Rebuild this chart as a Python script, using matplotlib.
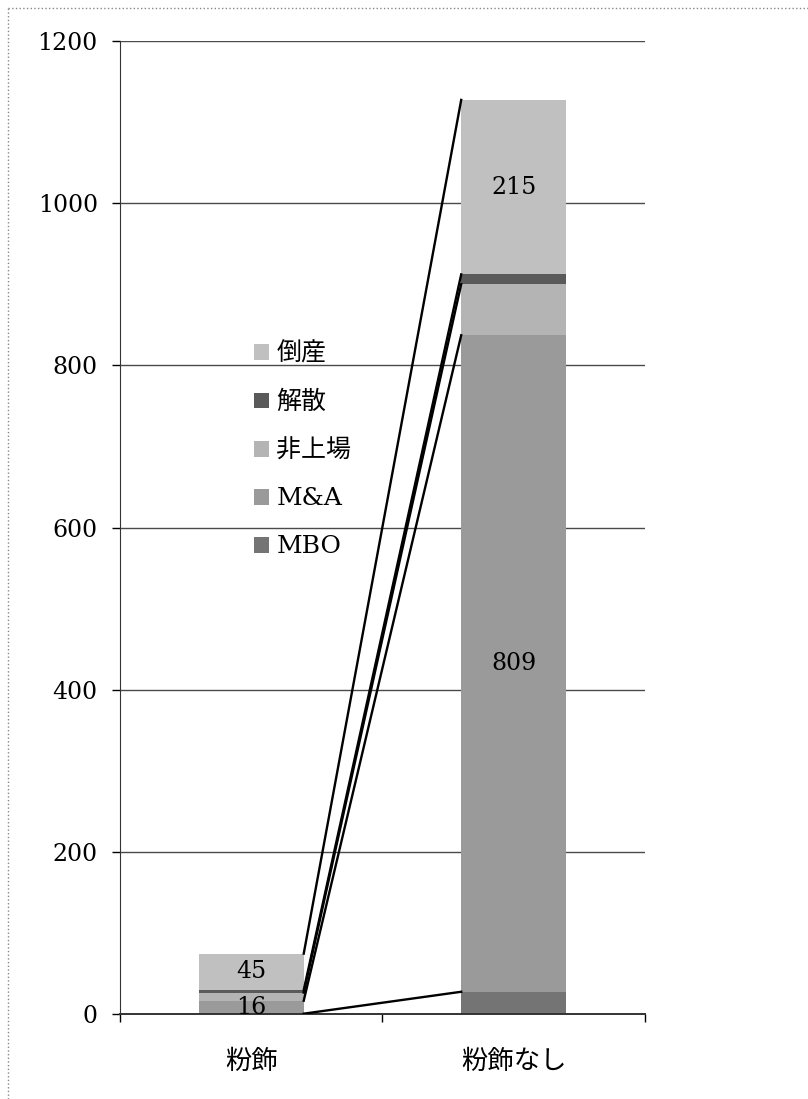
# coding:utf-8

import numpy as np
import matplotlib.pyplot as plt
from matplotlib.lines import Line2D

plt.rcParams['font.family'] = ['DejaVu Serif', 'Noto Sans CJK JP']

categories = ["粉飾", "粉飾なし"]
series_names = ["MBO", "M&A", "非上場", "解散", "倒産"]
mbo      = np.array([1, 28])
ma       = np.array([16, 809])
unlisted = np.array([10, 63])
dissolve = np.array([3, 12])
bankrupt = np.array([45, 215])

colors = ["#747474", "#9a9a9a", "#b4b4b4", "#5a5a5a", "#c0c0c0"]


def create_bar_graph():
    bar_width = 0.4
    x = np.arange(len(categories))
    values = [mbo, ma, unlisted, dissolve, bankrupt]

    fig = plt.figure(figsize=(8.08, 10.99), dpi=100)
    ax = fig.add_axes([0.1485, 0.0769, 0.6497, 0.8861])

    # 目盛り線
    for v in range(200, 1201, 200):
        ax.axhline(v, color="#4a4a4a", lw=1.0, zorder=0)

    bottom = np.zeros(len(categories))
    tops = []
    containers = []
    for name, val, c in zip(series_names, values, colors):
        bars = ax.bar(x, val, bottom=bottom, width=bar_width, color=c,
                      label=name, align="center", zorder=2)
        containers.append(bars)
        bottom = bottom + val
        tops.append(bottom.copy())

    # 区分線 (左の棒の右端から右の棒の左端へ)
    for t in tops:
        ax.plot([x[0] + bar_width / 2, x[1] - bar_width / 2], [t[0], t[1]],
                color="black", lw=1.7, zorder=3)

    # データラベル (M&A と 倒産)
    ax.bar_label(containers[1], labels=[str(v) for v in ma], label_type="center",
                 fontsize=17, zorder=4)
    ax.bar_label(containers[4], labels=[str(v) for v in bankrupt], label_type="center",
                 fontsize=17, zorder=4)

    ax.set_xlim(-0.5, 1.5)
    ax.set_ylim(0, 1200)
    ax.set_yticks(range(0, 1201, 200))
    ax.set_xticks(x)
    ax.set_xticklabels(categories, fontsize=19, family=['Noto Sans CJK JP'])
    ax.set_xticks([-0.5, 0.5, 1.5], minor=True)
    ax.tick_params(axis="x", which="major", length=0, pad=24)
    ax.tick_params(axis="x", which="minor", length=6, width=1, direction="out")
    ax.tick_params(axis="y", length=6, width=1, pad=10, labelsize=17)

    for side in ["top", "right"]:
        ax.spines[side].set_visible(False)
    ax.spines["left"].set_color("#333333")
    ax.spines["bottom"].set_color("#333333")
    ax.spines["bottom"].set_linewidth(1.4)

    handles, labels = ax.get_legend_handles_labels()
    ax.legend(handles[::-1], labels[::-1], loc="upper left",
              bbox_to_anchor=(0.255, 0.69), frameon=False, fontsize=18,
              handlelength=0.6, handleheight=0.6, handletextpad=0.3,
              labelspacing=1.0, borderpad=0, borderaxespad=0)

    # 外枠
    fx, fy = 8 / 808, 1 - 8 / 1099
    fig.add_artist(Line2D([fx, fx], [0, fy], transform=fig.transFigure,
                          color="#888888", lw=1, ls=":"))
    fig.add_artist(Line2D([fx, 1], [fy, fy], transform=fig.transFigure,
                          color="#888888", lw=1, ls=":"))

    fig.savefig("out.png", dpi=100)


if __name__ == '__main__':
    create_bar_graph()
